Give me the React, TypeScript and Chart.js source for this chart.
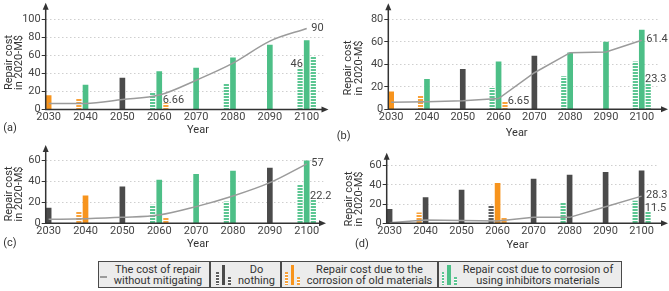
import React, { useEffect, useRef } from 'react';
import { Chart, registerables } from 'chart.js';

Chart.register(...registerables);
Chart.defaults.font.family = "Roboto, 'DejaVu Sans', sans-serif";

// ---------------- DATA ----------------
const YEARS = [2030, 2040, 2050, 2060, 2070, 2080, 2090, 2100];

// kinds: D = do nothing, O = old materials, I = inhibitors
// (a)
const A_LINE = [6.7, 6.7, 11, 16, 32.5, 51.5, 76, 90];
const A_LEFT = [null, 11.5, null, 18, null, 28.5, null, 46];
const A_LEFT_KIND = ['', 'O', '', 'I', '', 'I', '', 'I'];
const A_MID = [15.5, 27, 35, 42, 46, 57.5, 71.5, 76.5];
const A_MID_KIND = ['O', 'I', 'D', 'I', 'I', 'I', 'I', 'I'];
const A_RIGHT = [null, null, null, 6.66, null, null, null, 58];
const A_RIGHT_KIND = ['', '', '', 'O', '', '', '', 'I'];
const A_Y_TICKS = [0, 20, 40, 60, 80, 100];
const A_NOTES = [
  { text: '90', at: 'line', i: 7 },
  { text: '6.66', at: 'right', i: 3, place: 'aboveLeft' },
  { text: '46', at: 'left', i: 7, place: 'aboveRight' },
];

// (b)
const B_LINE = [6.3, 6.8, 7.7, 9.5, 32.5, 50.3, 51, 61.4];
const B_LEFT = [null, 11.8, null, 18.7, null, 29, null, 42.3];
const B_LEFT_KIND = ['', 'O', '', 'I', '', 'I', '', 'I'];
const B_MID = [15.6, 26.7, 35.5, 42.3, 47.4, 50.3, 59.8, 70.5];
const B_MID_KIND = ['O', 'I', 'D', 'I', 'D', 'I', 'I', 'I'];
const B_RIGHT = [null, null, null, 6.65, null, null, null, 23.3];
const B_RIGHT_KIND = ['', '', '', 'O', '', '', '', 'I'];
const B_Y_TICKS = [0, 20, 40, 60, 80];
const B_NOTES = [
  { text: '61.4', at: 'line', i: 7 },
  { text: '6.65', at: 'right', i: 3, place: 'beside' },
  { text: '23.3', at: 'right', i: 7, place: 'aboveLeft' },
];

// (c)
const C_LINE = [3.8, 4.4, 5.7, 8, 16, 26.2, 39, 57];
const C_LEFT = [null, 11, null, 17.5, null, 20.7, null, 37.4];
const C_LEFT_KIND = ['', 'O', '', 'I', '', 'I', '', 'I'];
const C_MID = [14.5, 26.3, 35, 41.5, 47, 50.1, 53, 60];
const C_MID_KIND = ['D', 'O', 'D', 'I', 'I', 'I', 'D', 'I'];
const C_RIGHT = [null, null, null, 5.5, null, null, null, 22.2];
const C_RIGHT_KIND = ['', '', '', 'O', '', '', '', 'I'];
const C_Y_TICKS = [0, 20, 40, 60];
const C_NOTES = [
  { text: '57', at: 'line', i: 7 },
  { text: '22.2', at: 'right', i: 7, place: 'aboveLeft' },
];

// (d)
const D_LINE = [0.5, 3.4, 3, 2.5, 6.2, 6.2, 17.3, 28.3];
const D_LEFT = [null, 11, null, 18, null, 20.8, null, 23.2];
const D_LEFT_KIND = ['', 'O', '', 'D', '', 'I', '', 'I'];
const D_MID = [14.6, 26.7, 34.7, 41.7, 46.1, 50.3, 53.1, 54.5];
const D_MID_KIND = ['D', 'D', 'D', 'O', 'D', 'D', 'D', 'D'];
const D_RIGHT = [null, null, null, 5.8, null, null, null, 11.5];
const D_RIGHT_KIND = ['', '', '', 'O', '', '', '', 'I'];
const D_Y_TICKS = [0, 20, 40, 60];
const D_NOTES = [
  { text: '28.3', at: 'line', i: 7 },
  { text: '11.5', at: 'right', i: 7, place: 'aboveLeft' },
];

const Y_TITLE = ['Repair cost', 'in 2020-M$'];
const X_TITLE = 'Year';
const LEGEND_LABELS = [
  ['The cost of repair', 'without mitigating'],
  ['Do', 'nothing'],
  ['Repair cost due to the', 'corrosion of old materials'],
  ['Repair cost due to corrosion of', 'using inhibitors materials'],
];

// ---------------- STYLE / LAYOUT ----------------
const X_MIN = 2029.2;
const X_MAX = 2104.5;
const SLOT_OFFSET: Record<string, number> = { left: -1.8, mid: 0, right: 1.8 };
const SOLID: Record<string, string> = { D: '#4b4b4b', O: '#f7941d', I: '#4dbf87' };
const HATCH: Record<string, string> = { D: '#5e5e5e', O: '#f9a23a', I: '#5cc692' };
const LINE_COLOR = '#9b9b9b';
const MID_W = 5;
const SIDE_W = 4.5;

const LAYOUT_A = { left: 0, top: 0, w: 335, h: 142, L: 45.7, R: 323.3, T: 12, Z: 109.5, yMax: 108.3, yTip: 2.7, xTip: 328.5, t1x: 9, t2x: 19.5, ty: 62.5, yearX: 198, yearY: 133.4, tagX: 3.3, tagY: 130.6 };
const LAYOUT_B = { left: 335, top: 0, w: 334, h: 142, L: 53.3, R: 322.9, T: 12, Z: 109.3, yMax: 86.5, yTip: 3.3, xTip: 333, t1x: 13, t2x: 24.5, ty: 68, yearX: 181.7, yearY: 136, tagX: 1.7, tagY: 138.6 };
const LAYOUT_C = { left: 0, top: 140, w: 335, h: 115, L: 45.7, R: 323.3, T: 13, Z: 83.3, yMax: 67.4, yTip: 5, xTip: 326, t1x: 9, t2x: 19.5, ty: 54, yearX: 198, yearY: 107.2, tagX: 3.3, tagY: 106.4 };
const LAYOUT_D = { left: 335, top: 140, w: 334, h: 115, L: 51.7, R: 322.8, T: 20, Z: 83.3, yMax: 65.9, yTip: 12.7, xTip: 333, t1x: 14, t2x: 24, ty: 59, yearX: 182.5, yearY: 108.1, tagX: 20, tagY: 107.2 };

const PANELS = [
  { tag: '(a)', line: A_LINE, smooth: true, slots: { left: [A_LEFT, A_LEFT_KIND], mid: [A_MID, A_MID_KIND], right: [A_RIGHT, A_RIGHT_KIND] }, yTicks: A_Y_TICKS, notes: A_NOTES, lay: LAYOUT_A },
  { tag: '(b)', line: B_LINE, smooth: false, slots: { left: [B_LEFT, B_LEFT_KIND], mid: [B_MID, B_MID_KIND], right: [B_RIGHT, B_RIGHT_KIND] }, yTicks: B_Y_TICKS, notes: B_NOTES, lay: LAYOUT_B },
  { tag: '(c)', line: C_LINE, smooth: true, slots: { left: [C_LEFT, C_LEFT_KIND], mid: [C_MID, C_MID_KIND], right: [C_RIGHT, C_RIGHT_KIND] }, yTicks: C_Y_TICKS, notes: C_NOTES, lay: LAYOUT_C },
  { tag: '(d)', line: D_LINE, smooth: false, slots: { left: [D_LEFT, D_LEFT_KIND], mid: [D_MID, D_MID_KIND], right: [D_RIGHT, D_RIGHT_KIND] }, yTicks: D_Y_TICKS, notes: D_NOTES, lay: LAYOUT_D },
];

function Panel({ p }: { p: any }) {
  const ref = useRef<HTMLCanvasElement | null>(null);
  useEffect(() => {
    const canvas = ref.current!;
    const c2d = canvas.getContext('2d')!;
    const lay = p.lay;
    const hatch = (col: string) => {
      const t = document.createElement('canvas');
      t.width = 4; t.height = 3;
      const g = t.getContext('2d')!;
      g.fillStyle = '#ffffff'; g.fillRect(0, 0, 4, 3);
      g.fillStyle = col; g.fillRect(0, 0, 4, 2);
      return c2d.createPattern(t, 'repeat');
    };
    const patterns: Record<string, any> = { D: hatch(HATCH.D), O: hatch(HATCH.O), I: hatch(HATCH.I) };

    const barSets = ['left', 'mid', 'right'].map((slot) => {
      const [vals, kinds] = p.slots[slot];
      const data: any[] = [];
      const colors: any[] = [];
      vals.forEach((v: number | null, i: number) => {
        if (v === null) return;
        data.push({ x: YEARS[i] + SLOT_OFFSET[slot], y: v });
        colors.push(slot === 'mid' ? SOLID[kinds[i]] : patterns[kinds[i]]);
      });
      return {
        type: 'bar',
        data,
        backgroundColor: colors,
        borderWidth: 0,
        grouped: false,
        barThickness: slot === 'mid' ? MID_W : SIDE_W,
        order: 1,
      };
    });

    const lineSet = {
      type: 'line',
      data: YEARS.map((yr, i) => ({ x: yr, y: p.line[i] })),
      borderColor: LINE_COLOR,
      borderWidth: 1.5,
      pointRadius: 0,
      fill: false,
      tension: p.smooth ? 0.4 : 0,
      cubicInterpolationMode: p.smooth ? 'monotone' : 'default',
      order: 0,
    };

    const deco = {
      id: 'deco',
      afterDatasetsDraw(chart: any) {
        const { ctx, chartArea: ca, scales } = chart;
        const xs = scales.x, ys = scales.y;
        const L = ca.left;
        const Z = ys.getPixelForValue(0);
        ctx.save();
        ctx.strokeStyle = '#333'; ctx.fillStyle = '#333'; ctx.lineWidth = 1.5;
        ctx.beginPath();
        ctx.moveTo(L, Z + 0.75); ctx.lineTo(L, lay.yTip + 5);
        ctx.moveTo(L - 0.75, Z); ctx.lineTo(lay.xTip - 5, Z);
        ctx.stroke();
        ctx.beginPath();
        ctx.moveTo(L, lay.yTip); ctx.lineTo(L - 3, lay.yTip + 7); ctx.lineTo(L + 3, lay.yTip + 7); ctx.closePath(); ctx.fill();
        ctx.beginPath();
        ctx.moveTo(lay.xTip, Z); ctx.lineTo(lay.xTip - 7, Z - 3); ctx.lineTo(lay.xTip - 7, Z + 3); ctx.closePath(); ctx.fill();

        // value notes
        ctx.font = "11px Roboto, 'DejaVu Sans', sans-serif";
        ctx.fillStyle = '#444';
        for (const n of p.notes) {
          if (n.at === 'line') {
            const px = xs.getPixelForValue(YEARS[n.i]);
            const py = ys.getPixelForValue(p.line[n.i]);
            ctx.textAlign = 'left'; ctx.textBaseline = 'middle';
            ctx.fillText(n.text, px + 4.5, py - 0.5);
          } else {
            const [vals] = p.slots[n.at];
            const cx = xs.getPixelForValue(YEARS[n.i] + SLOT_OFFSET[n.at]);
            const half = SIDE_W / 2;
            const top = ys.getPixelForValue(vals[n.i]);
            if (n.place === 'aboveLeft') {
              ctx.textAlign = 'left'; ctx.textBaseline = 'alphabetic';
              ctx.fillText(n.text, cx - half - 1, top - 1);
            } else if (n.place === 'aboveRight') {
              ctx.textAlign = 'right'; ctx.textBaseline = 'alphabetic';
              ctx.fillText(n.text, cx + half + 0.5, top - 1.5);
            } else {
              ctx.textAlign = 'left'; ctx.textBaseline = 'middle';
              ctx.fillText(n.text, cx + half + 0.5, top - 1);
            }
          }
        }

        // titles
        ctx.fillStyle = '#333';
        ctx.textAlign = 'center'; ctx.textBaseline = 'middle';
        [lay.t1x, lay.t2x].forEach((tx: number, k: number) => {
          ctx.save();
          ctx.translate(tx, lay.ty);
          ctx.rotate(-Math.PI / 2);
          ctx.fillText(Y_TITLE[k], 0, 0);
          ctx.restore();
        });
        ctx.textBaseline = 'alphabetic';
        ctx.fillText(X_TITLE, lay.yearX, lay.yearY);
        ctx.textAlign = 'left';
        ctx.fillText(p.tag, lay.tagX, lay.tagY);
        ctx.restore();
      },
    };

    const chart = new Chart(canvas, {
      type: 'bar',
      data: { datasets: [lineSet, ...barSets] as any },
      options: {
        animation: false,
        responsive: false,
        devicePixelRatio: 1,
        events: [],
        layout: { padding: { left: 0, right: lay.w - lay.R, top: lay.T, bottom: 0 }, autoPadding: false },
        plugins: { legend: { display: false }, tooltip: { enabled: false } },
        scales: {
          x: {
            type: 'linear',
            min: X_MIN,
            max: X_MAX,
            offset: false,
            grid: { display: false, drawTicks: false },
            border: { display: false },
            afterBuildTicks: (s: any) => { s.ticks = YEARS.map((v) => ({ value: v })); },
            afterFit: (s: any) => { s.height = lay.h - lay.Z; },
            ticks: { font: { size: 11 }, color: '#444', padding: 1, maxRotation: 0, autoSkip: false, callback: (v: any) => String(v) },
          },
          y: {
            type: 'linear',
            min: 0,
            max: lay.yMax,
            grid: { color: '#cfcfcf', lineWidth: 1, drawTicks: true, tickLength: 4, tickColor: '#333', tickWidth: 1, tickBorderDash: [] },
            border: { display: false, dash: [1.5, 2.5] },
            afterBuildTicks: (s: any) => { s.ticks = p.yTicks.map((v: number) => ({ value: v })); },
            afterFit: (s: any) => { s.width = lay.L; },
            ticks: { font: { size: 11 }, color: '#444', padding: 1 },
          },
        },
      } as any,
      plugins: [deco],
    });
    return () => chart.destroy();
  }, []);
  const lay = p.lay;
  return (
    <canvas
      ref={ref}
      width={lay.w}
      height={lay.h}
      style={{ position: 'absolute', left: lay.left, top: lay.top, width: lay.w, height: lay.h }}
    />
  );
}

const hatchCss = (col: string) =>
  `repeating-linear-gradient(to bottom, ${col} 0px, ${col} 2px, #ffffff 2px, #ffffff 3px)`;

function BarIcon({ x, kind }: { x: number; kind: string }) {
  const base: React.CSSProperties = { position: 'absolute' };
  return (
    <>
      <div style={{ ...base, left: x, top: 271.7, width: 2.7, height: 13.3, background: hatchCss(HATCH[kind]) }} />
      <div style={{ ...base, left: x + 5.7, top: 265, width: 3.3, height: 20, background: SOLID[kind] }} />
      <div style={{ ...base, left: x + 12.3, top: 276.7, width: 2.7, height: 8.3, background: hatchCss(HATCH[kind]) }} />
    </>
  );
}

function Legend() {
  const sections = [
    { from: 98, to: 210, textL: 110, textR: 206 },
    { from: 210, to: 281, textL: 232, textR: 281 },
    { from: 281, to: 437.7, textL: 302, textR: 437 },
    { from: 437.7, to: 622, textL: 459, textR: 617 },
  ];
  return (
    <>
      <div style={{ position: 'absolute', left: 98, top: 260.5, width: 524, height: 27, boxSizing: 'border-box', border: '1.5px solid #4a4a4a', background: '#ececec' }} />
      {sections.slice(1).map((s, k) => (
        <div key={'sep' + k} style={{ position: 'absolute', left: s.from - 0.75, top: 260.5, width: 1.7, height: 27, background: '#4a4a4a' }} />
      ))}
      <div style={{ position: 'absolute', left: 100, top: 276, width: 7, height: 1.5, background: LINE_COLOR }} />
      <BarIcon x={216} kind="D" />
      <BarIcon x={285} kind="O" />
      <BarIcon x={441.7} kind="I" />
      {sections.map((s, k) => (
        <div
          key={'t' + k}
          style={{
            position: 'absolute', left: s.textL, top: 263.5, width: s.textR - s.textL,
            textAlign: 'center', fontFamily: "Roboto, 'DejaVu Sans', sans-serif", fontSize: 11,
            lineHeight: '11px', color: '#333', whiteSpace: 'nowrap',
          }}
        >
          {LEGEND_LABELS[k][0]}
          <br />
          {LEGEND_LABELS[k][1]}
        </div>
      ))}
    </>
  );
}

export default function App() {
  return (
    <div style={{ position: 'absolute', left: 0, top: 0, width: 669, height: 291, background: '#fff', overflow: 'hidden' }}>
      {PANELS.map((p, k) => (
        <Panel key={k} p={p} />
      ))}
      <Legend />
    </div>
  );
}
